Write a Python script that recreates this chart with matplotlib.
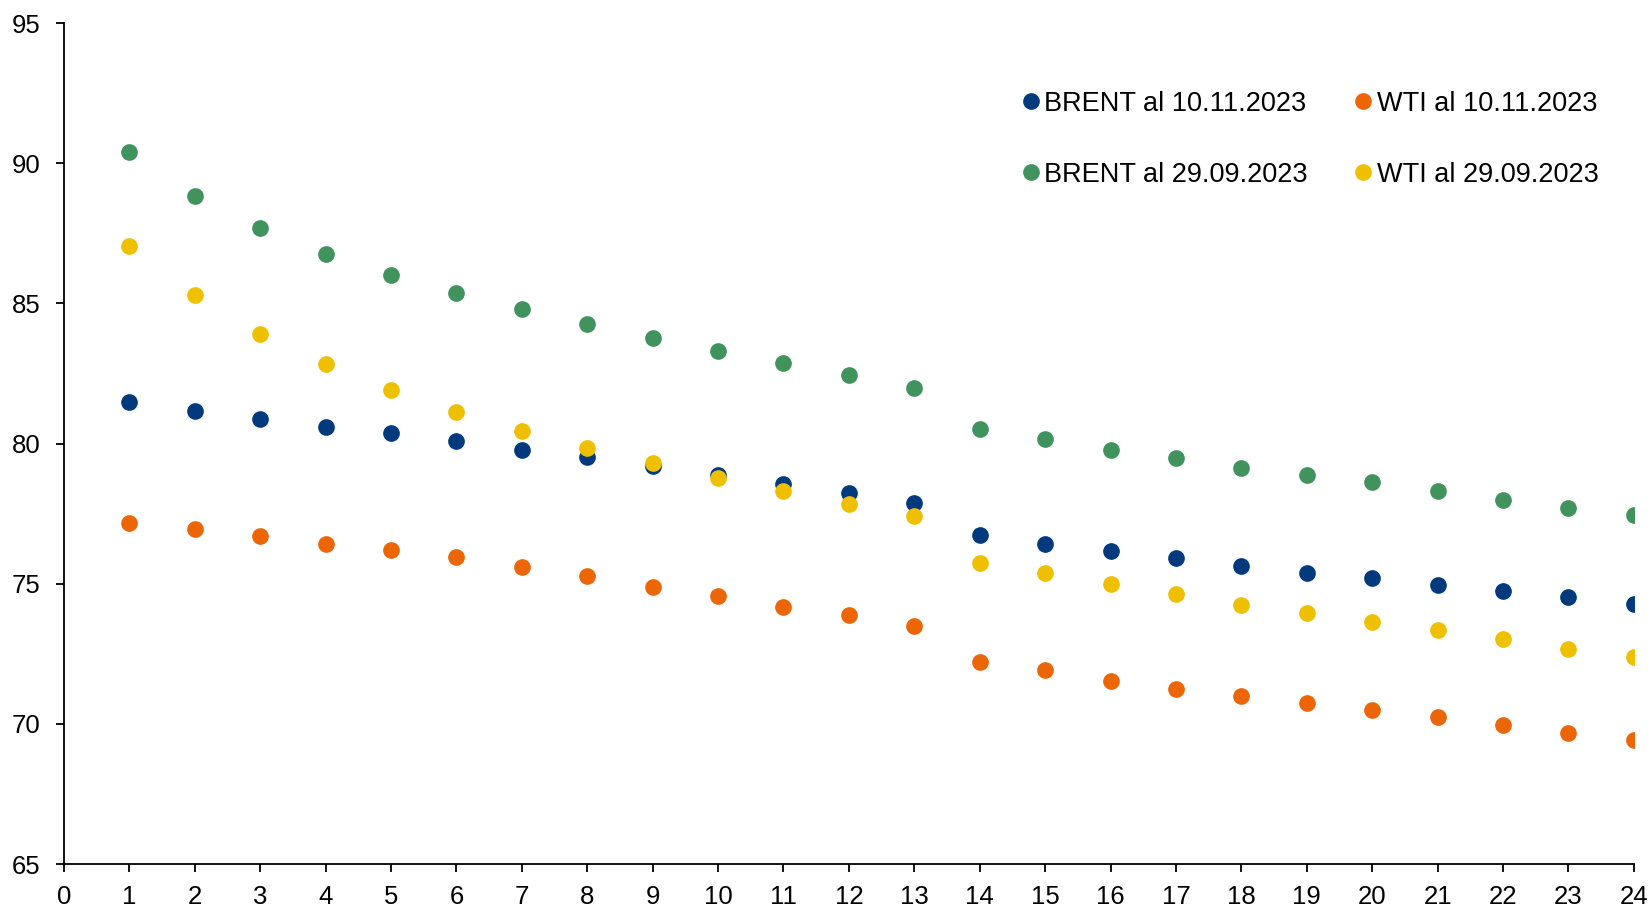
import matplotlib
matplotlib.use('Agg')
import matplotlib.pyplot as plt

months = list(range(1, 25))

brent_1011 = [81.47, 81.17, 80.86, 80.60, 80.38, 80.08, 79.77, 79.51, 79.21, 78.87, 78.57, 78.23,
              77.89, 76.73, 76.43, 76.17, 75.90, 75.64, 75.38, 75.19, 74.96, 74.74, 74.51, 74.29]
wti_1011 = [77.18, 76.95, 76.69, 76.43, 76.20, 75.94, 75.60, 75.26, 74.89, 74.55, 74.17, 73.87,
            73.50, 72.22, 71.92, 71.54, 71.24, 70.98, 70.75, 70.49, 70.26, 69.96, 69.66, 69.44]
brent_2909 = [90.41, 88.83, 87.70, 86.77, 86.00, 85.38, 84.81, 84.25, 83.76, 83.31, 82.86, 82.44,
              81.99, 80.53, 80.15, 79.77, 79.47, 79.14, 78.87, 78.61, 78.31, 77.97, 77.71, 77.44]
wti_2909 = [87.03, 85.30, 83.91, 82.82, 81.92, 81.13, 80.45, 79.85, 79.29, 78.76, 78.31, 77.86,
            77.41, 75.75, 75.38, 75.00, 74.62, 74.25, 73.95, 73.65, 73.35, 73.01, 72.67, 72.37]

plt.rcParams['font.family'] = ['Liberation Sans', 'DejaVu Sans']

fig = plt.figure(figsize=(16.52, 9.07), dpi=100)
ax = fig.add_axes([0.0387, 0.0474, 0.9503, 0.9272])

ms = 11
ax.plot(months, brent_1011, 'o', color='#003A7D', ms=ms, label='BRENT al 10.11.2023')
ax.plot(months, brent_2909, 'o', color='#40935D', ms=ms, label='BRENT al 29.09.2023')
ax.plot(months, wti_1011, 'o', color='#EC6608', ms=ms, label='WTI al 10.11.2023')
ax.plot(months, wti_2909, 'o', color='#EEC000', ms=ms, label='WTI al 29.09.2023')

ax.set_xlim(0, 24)
ax.set_ylim(65, 95)
ax.set_xticks(range(0, 25))
ax.set_yticks(range(65, 96, 5))
ax.spines['top'].set_visible(False)
ax.spines['right'].set_visible(False)
ax.spines['left'].set_linewidth(1.3)
ax.spines['bottom'].set_linewidth(1.3)
ax.tick_params(axis='both', direction='out', length=6, width=1.3, labelsize=18.5)
ax.tick_params(axis='x', pad=9)
ax.tick_params(axis='y', pad=11)

leg = ax.legend(ncol=2, frameon=False, fontsize=19.5, loc='upper left',
                bbox_to_anchor=(0.619, 0.900), bbox_transform=fig.transFigure,
                handlelength=0.6, handletextpad=0.2, columnspacing=1.75,
                labelspacing=1.66, markerscale=1.0, borderaxespad=0, borderpad=0)

fig.savefig('out.png', dpi=100)
